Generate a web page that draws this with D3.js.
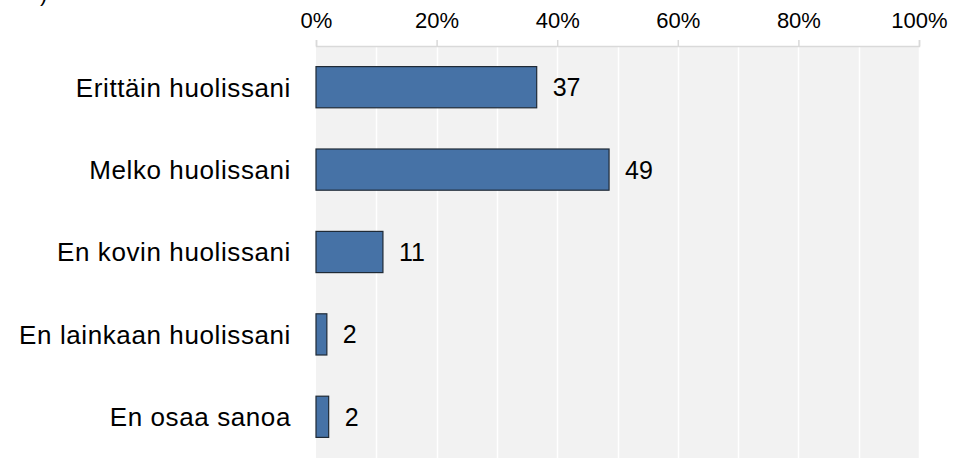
<!DOCTYPE html>
<html>
<head>
<meta charset="utf-8">
<script src="https://cdn.jsdelivr.net/npm/d3@7"></script>
<style>
  html, body { margin: 0; padding: 0; background: #ffffff; }
  svg { display: block; }
  text { font-family: "Liberation Sans", Arial, sans-serif; fill: #000; }
</style>
</head>
<body>
<svg id="chart" width="954" height="458"></svg>
<script>
const categories = ["Erittäin huolissani", "Melko huolissani", "En kovin huolissani", "En lainkaan huolissani", "En osaa sanoa"];
const values = [36.6, 48.6, 11.1, 1.8, 2.1];
const valueLabels = ["37", "49", "11", "2", "2"];
const tickValues = [0, 20, 40, 60, 80, 100];
const gridValues = [10, 20, 30, 40, 50, 60, 70, 80, 90, 100];

const svg = d3.select("#chart");
const W = 954, H = 458;
const mLeft = 316, mRight = 919, mTop = 46, mBottom = 458;

const x = d3.scaleLinear().domain([0, 100]).range([mLeft, mRight]);
const y = d3.scaleBand().domain(categories).range([mTop, mBottom]).paddingInner(0.5).paddingOuter(0.25);

// clipped title fragment at top-left
svg.append("text").attr("x", 40).attr("y", 1).style("font-size", "22px").text(")");

// plot background
svg.append("rect").attr("x", mLeft).attr("y", mTop).attr("width", mRight - mLeft).attr("height", mBottom - mTop)
  .attr("fill", "#f2f2f2");

// gridlines
svg.append("g").selectAll("line").data(gridValues).join("line")
  .attr("x1", d => Math.round(x(d)) + 0.5).attr("x2", d => Math.round(x(d)) + 0.5)
  .attr("y1", mTop).attr("y2", mBottom)
  .attr("stroke", "#ffffff").attr("stroke-width", 1.5);

// top axis
const axis = d3.axisTop(x).tickValues(tickValues).tickFormat(d => d + "%").tickSize(6).tickPadding(12);
const ag = svg.append("g").attr("transform", `translate(0,${mTop})`).call(axis);
ag.select(".domain").attr("stroke", "#d9d9d9").attr("stroke-width", 1.5);
ag.selectAll(".tick line").attr("stroke", "#d9d9d9").attr("stroke-width", 1.5);
ag.selectAll(".tick text").style("font-size", "22px").attr("fill", "#000")
  .style("font-family", '"Liberation Sans", Arial, sans-serif');

// bars
svg.append("g").selectAll("rect").data(categories).join("rect")
  .attr("x", x(0))
  .attr("y", d => y(d))
  .attr("width", (d, i) => x(values[i]) - x(0))
  .attr("height", y.bandwidth())
  .attr("fill", "#4672a6")
  .attr("stroke", "#1f2a36")
  .attr("stroke-width", 1.2);

// category labels
svg.append("g").selectAll("text").data(categories).join("text")
  .attr("x", 291)
  .attr("y", d => y(d) + y.bandwidth() / 2)
  .attr("dy", "0.36em")
  .attr("text-anchor", "end")
  .style("font-size", "26px")
  .style("letter-spacing", "0.6px")
  .text(d => d);

// value labels
svg.append("g").selectAll("text").data(categories).join("text")
  .attr("x", (d, i) => x(values[i]) + 16)
  .attr("y", d => y(d) + y.bandwidth() / 2)
  .attr("dy", "0.36em")
  .style("font-size", "25px")
  .text((d, i) => valueLabels[i]);
</script>
</body>
</html>
